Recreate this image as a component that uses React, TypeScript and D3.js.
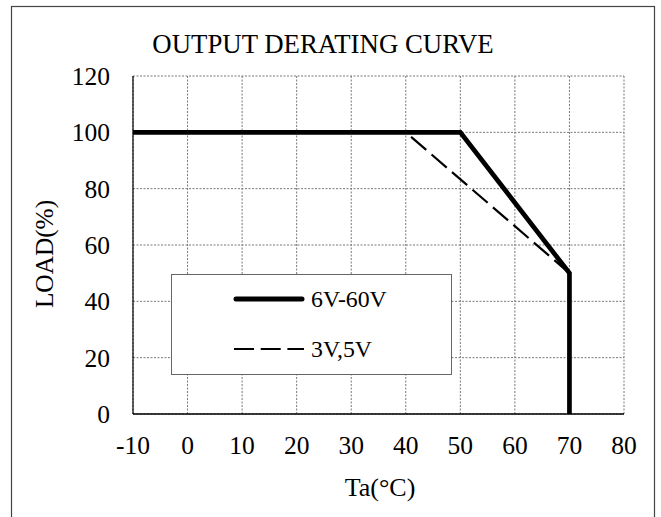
import React from "react";
import * as d3 from "d3";

const xTicks = [-10, 0, 10, 20, 30, 40, 50, 60, 70, 80];
const yTicks = [0, 20, 40, 60, 80, 100, 120];
const seriesNames = ["6V-60V", "3V,5V"];
const tempSolid = [-10, 50, 70, 70];
const loadSolid = [100, 100, 50, 0];
const tempDashed = [40, 70];
const loadDashed = [100, 50];

const FONT = "'Liberation Serif', 'Times New Roman', serif";

export default function App() {
  const x = d3.scaleLinear().domain([-10, 80]).range([133, 624]);
  const y = d3.scaleLinear().domain([0, 120]).range([414, 76]);
  const line = d3
    .line<[number, number]>()
    .x((d) => x(d[0]))
    .y((d) => y(d[1]));
  const solidPts: [number, number][] = tempSolid.map((t, i) => [t, loadSolid[i]]);
  const dashedPts: [number, number][] = tempDashed.map((t, i) => [t, loadDashed[i]]);
  const [x0, x1] = x.range();
  const [y0, y1] = y.range();

  return (
    <div style={{ position: "absolute", left: 0, top: 0 }}>
      <svg width={661} height={517} style={{ display: "block", background: "#fff" }}>
        {/* outer frame */}
        <rect x={11.5} y={6.5} width={643} height={520} fill="none" stroke="#444" strokeWidth={1.2} />
        {/* title */}
        <text x={323} y={53} textAnchor="middle" fontFamily={FONT} fontSize={26.8} fill="#000">
          OUTPUT DERATING CURVE
        </text>
        {/* gridlines */}
        {xTicks.map((t) => (
          <line key={"gx" + t} x1={x(t)} x2={x(t)} y1={y1} y2={y0} stroke="#777" strokeWidth={1} strokeDasharray="2,1.5" />
        ))}
        {yTicks.map((t) => (
          <line key={"gy" + t} x1={x0} x2={x1} y1={y(t)} y2={y(t)} stroke="#777" strokeWidth={1} strokeDasharray="2,1.5" />
        ))}
        {/* axes */}
        <line x1={x0} x2={x0} y1={y1} y2={y0} stroke="#000" strokeWidth={1.2} />
        <line x1={x0} x2={x1} y1={y0} y2={y0} stroke="#000" strokeWidth={1.5} />
        {/* tick labels */}
        {xTicks.map((t) => (
          <text key={"tx" + t} x={x(t)} y={454} textAnchor="middle" fontFamily={FONT} fontSize={25.5} fill="#000">
            {t}
          </text>
        ))}
        {yTicks.map((t) => (
          <text key={"ty" + t} x={110} y={y(t) + 9} textAnchor="end" fontFamily={FONT} fontSize={25.5} fill="#000">
            {t}
          </text>
        ))}
        {/* axis titles */}
        <text x={380} y={496} textAnchor="middle" fontFamily={FONT} fontSize={26} fill="#000">
          Ta(°C)
        </text>
        <text transform="translate(53,254) rotate(-90)" textAnchor="middle" fontFamily={FONT} fontSize={25.3} fill="#000">
          LOAD(%)
        </text>
        {/* legend */}
        <rect x={171.5} y={274.5} width={280} height={100} fill="#fff" stroke="#666" strokeWidth={1} />
        <line x1={236} x2={302} y1={299} y2={299} stroke="#000" strokeWidth={5} strokeLinecap="round" />
        <text x={311} y={307} fontFamily={FONT} fontSize={23.8} fill="#000">
          {seriesNames[0]}
        </text>
        <line x1={234} x2={304} y1={349} y2={349} stroke="#000" strokeWidth={2.2} strokeDasharray="20,6.7" />
        <text x={311} y={357} fontFamily={FONT} fontSize={23.8} fill="#000">
          {seriesNames[1]}
        </text>
        {/* series */}
        <path d={line(dashedPts) || ""} fill="none" stroke="#000" strokeWidth={2.2} strokeDasharray="20,7" strokeDashoffset={20} />
        <path d={line(solidPts) || ""} fill="none" stroke="#000" strokeWidth={4.7} strokeLinejoin="miter" />
      </svg>
    </div>
  );
}
